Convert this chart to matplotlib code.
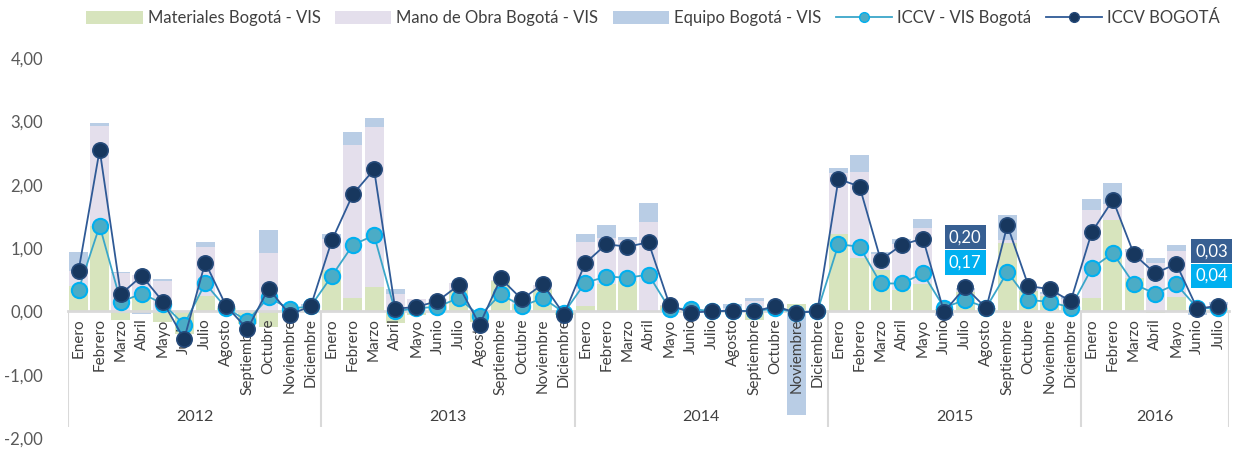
import numpy as np
import matplotlib
matplotlib.use("Agg")
import matplotlib.pyplot as plt
from matplotlib.patches import Patch
from matplotlib.lines import Line2D

plt.rcParams['font.family'] = ['Lato', 'DejaVu Sans']

years = ["2012", "2013", "2014", "2015", "2016"]
months_full = ["Enero", "Febrero", "Marzo", "Abril", "Mayo", "Junio", "Julio",
               "Agosto", "Septiembre", "Octubre", "Noviembre", "Diciembre"]
months_per_year = [12, 12, 12, 12, 7]

materiales = [0.40, 1.35, -0.13, 0.25, -0.17, -0.36, 0.24, 0.06, -0.20, -0.25, 0.00, 0.05,
              0.66, 0.21, 0.39, -0.18, -0.05, 0.15, 0.34, -0.17, 0.48, 0.12, 0.36, -0.05,
              0.08, 0.43, 0.48, 0.00, 0.08, 0.00, 0.00, 0.00, -0.14, 0.03, 0.11, 0.00,
              1.22, 0.85, 0.65, 0.34, 0.43, 0.03, 0.30, 0.04, 1.08, 0.32, 0.25, 0.12,
              0.21, 1.44, 0.52, -0.03, 0.23, 0.02, 0.05]
mano_obra = [0.24, 1.58, 0.60, 0.32, 0.48, 0.00, 0.78, 0.03, 0.02, 0.92, 0.02, 0.04,
             0.49, 2.42, 2.52, 0.27, 0.19, 0.04, 0.10, 0.02, 0.02, 0.08, 0.05, 0.02,
             1.01, 0.73, 0.65, 1.41, 0.02, 0.02, 0.01, 0.06, 0.17, 0.03, 0.00, 0.01,
             0.97, 1.35, 0.25, 0.72, 0.89, 0.00, 0.04, 0.00, 0.05, 0.03, 0.03, 0.08,
             1.39, 0.26, 0.41, 0.77, 0.72, 0.00, 0.05]
equipo = [0.29, 0.05, 0.02, -0.04, 0.03, 0.00, 0.07, 0.00, 0.00, 0.37, 0.00, 0.02,
          0.07, 0.20, 0.14, 0.08, 0.00, 0.00, 0.00, 0.00, 0.00, 0.00, 0.00, 0.00,
          0.13, 0.21, 0.05, 0.30, 0.00, 0.00, 0.00, 0.05, 0.04, 0.00, -1.64, 0.00,
          0.08, 0.27, 0.04, 0.08, 0.14, -0.08, 0.03, 0.02, 0.39, 0.00, 0.03, 0.04,
          0.17, 0.33, 0.05, 0.07, 0.09, -0.05, 0.04]
iccv_vis = [0.34, 1.35, 0.15, 0.28, 0.12, -0.21, 0.44, 0.05, -0.15, 0.22, 0.04, 0.08,
            0.56, 1.05, 1.20, 0.00, 0.05, 0.07, 0.21, -0.07, 0.27, 0.08, 0.21, -0.02,
            0.45, 0.55, 0.53, 0.58, 0.04, 0.04, 0.00, 0.01, 0.00, 0.05, -0.02, 0.00,
            1.06, 1.02, 0.44, 0.44, 0.60, 0.06, 0.18, 0.06, 0.62, 0.18, 0.15, 0.06,
            0.68, 0.92, 0.43, 0.28, 0.43, 0.05, 0.05]
iccv_bog = [0.64, 2.55, 0.27, 0.56, 0.15, -0.44, 0.77, 0.08, -0.28, 0.36, -0.05, 0.08,
            1.12, 1.85, 2.24, 0.04, 0.07, 0.16, 0.41, -0.21, 0.52, 0.19, 0.43, -0.05,
            0.76, 1.06, 1.02, 1.09, 0.10, -0.02, 0.00, 0.01, 0.00, 0.08, -0.02, 0.00,
            2.09, 1.97, 0.81, 1.05, 1.15, -0.01, 0.38, 0.05, 1.36, 0.40, 0.35, 0.16,
            1.25, 1.76, 0.90, 0.60, 0.75, 0.04, 0.09]

label_bog_text = ["0,20", "0,03"]
label_vis_text = ["0,17", "0,04"]
label_x = [42, 53.67]
label_bog_y = [1.17, 0.95]
label_vis_y = [0.77, 0.56]

labels = []
for n in months_per_year:
    labels += months_full[:n]
N = len(labels)
x = np.arange(N)

c_mat = "#d7e4bd"
c_mano = "#e4dfec"
c_eq = "#b9cde5"
c_vis_line = "#3aa6c9"
c_vis_fill = "#4bacc6"
c_vis_edge = "#00b0f0"
c_bog_line = "#2f5a96"
c_bog_fill = "#17375e"
c_bog_edge = "#254a7a"
txt = "#404040"

W, H = 1233, 451
fig = plt.figure(figsize=(W / 100, H / 100), dpi=100)
ax = fig.add_axes([68 / W, (H - 438) / H, (1229 - 68) / W, (438 - 58) / H])

pos_bottom = np.zeros(N)
neg_bottom = np.zeros(N)
for vals, col in [(materiales, c_mat), (mano_obra, c_mano), (equipo, c_eq)]:
    v = np.array(vals)
    bottoms = np.where(v >= 0, pos_bottom, neg_bottom)
    ax.bar(x, v, bottom=bottoms, width=0.9, color=col, zorder=1)
    pos_bottom += np.where(v >= 0, v, 0)
    neg_bottom += np.where(v < 0, v, 0)

ax.plot(x, iccv_vis, color=c_vis_line, lw=1.3, marker='o', ms=11,
        mfc=c_vis_fill, mec=c_vis_edge, mew=1.5, zorder=4)
ax.plot(x, iccv_bog, color=c_bog_line, lw=1.3, marker='o', ms=11,
        mfc=c_bog_fill, mec=c_bog_edge, mew=1.2, zorder=5)

ax.set_xlim(-0.5, N - 0.5)
ax.set_ylim(-2, 4)
ax.set_yticks([-2, -1, 0, 1, 2, 3, 4])
ax.set_yticklabels(["-2,00", "-1,00", "0,00", "1,00", "2,00", "3,00", "4,00"])
ax.tick_params(axis='y', length=0, pad=18, labelsize=12, labelcolor="#595959")

for s in ['left', 'right', 'top']:
    ax.spines[s].set_visible(False)
ax.spines['bottom'].set_position(('data', 0))
ax.spines['bottom'].set_color("#d9d9d9")
ax.spines['bottom'].set_linewidth(2)
ax.spines['bottom'].set_zorder(3)
ax.set_xticks(x)
ax.set_xticklabels(labels, rotation=90, va='top', ha='center')
ax.tick_params(axis='x', length=0, pad=5, labelsize=11, labelcolor=txt)

# year group separators and labels
start = 0
bounds = [-0.5]
for n in months_per_year:
    start += n
    bounds.append(start - 0.5)
ax.vlines(bounds, -1.83, 0, color="#d9d9d9", lw=1.5, zorder=0.5)
for i, yr in enumerate(years):
    cx = (bounds[i] + bounds[i + 1]) / 2
    ax.text(cx, -1.67, yr, ha='center', va='center', fontsize=11.5, color=txt)

# data label boxes
for t, xi, yi in zip(label_bog_text, label_x, label_bog_y):
    ax.text(xi, yi, t, ha='center', va='center', color='white', fontsize=12, zorder=6,
            bbox=dict(boxstyle='square,pad=0.25', fc="#375f92", ec='none'))
for t, xi, yi in zip(label_vis_text, label_x, label_vis_y):
    ax.text(xi, yi, t, ha='center', va='center', color='white', fontsize=12, zorder=6,
            bbox=dict(boxstyle='square,pad=0.25', fc="#00b0f0", ec='none'))

handles = [
    Patch(facecolor=c_mat, edgecolor='none', label="Materiales Bogotá - VIS"),
    Patch(facecolor=c_mano, edgecolor='none', label="Mano de Obra Bogotá - VIS"),
    Patch(facecolor=c_eq, edgecolor='none', label="Equipo Bogotá - VIS"),
    Line2D([], [], color=c_vis_line, lw=1.3, marker='o', ms=7, mfc=c_vis_fill,
           mec=c_vis_edge, label="ICCV - VIS Bogotá"),
    Line2D([], [], color=c_bog_line, lw=1.3, marker='o', ms=7, mfc=c_bog_fill,
           mec=c_bog_edge, label="ICCV BOGOTÁ"),
]
fig.legend(handles=handles, loc='center', bbox_to_anchor=(653 / W, 1 - 18 / H), ncol=5,
           frameon=False, fontsize=12, handlelength=3.4, handleheight=0.8,
           columnspacing=0.85, handletextpad=0.3, labelcolor=txt)

fig.savefig("out.png", dpi=100)
